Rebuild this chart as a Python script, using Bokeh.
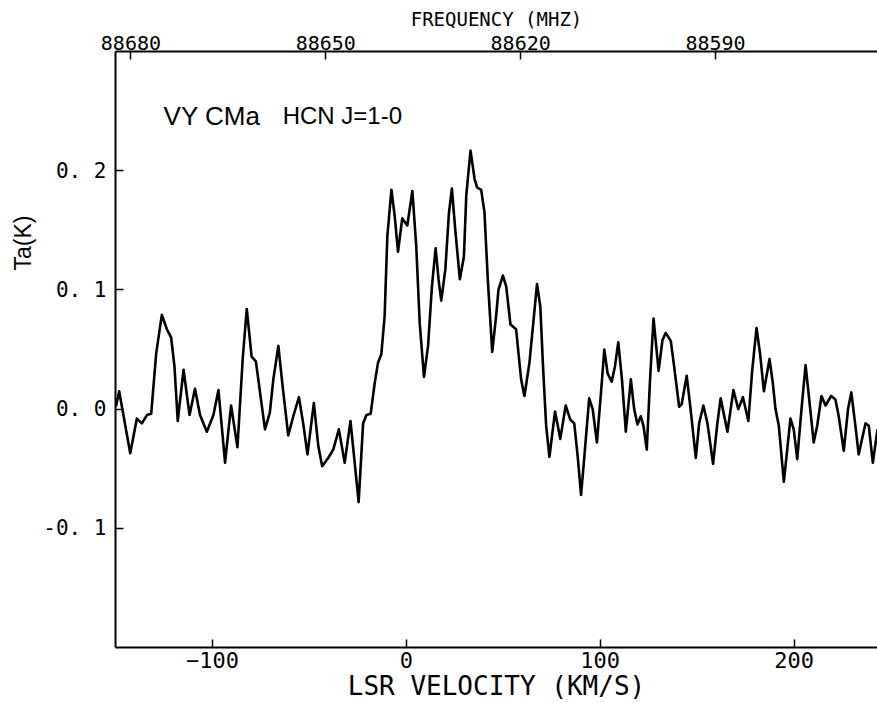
from bokeh.plotting import figure
from bokeh.models import Range1d, LinearAxis, FixedTicker, Label, Title
from bokeh.embed import file_html
from bokeh.resources import INLINE

# ---- data ----
velocity = [
    -149.8, -148.1, -142.4, -139.0, -136.4, -133.8, -131.6, -129.0, -126.1, -123.5,
    -121.3, -119.6, -117.9, -114.9, -111.8, -109.0, -106.4, -102.9, -99.5, -96.9,
    -93.5, -90.4, -87.1, -84.4, -82.3, -79.8, -77.6, -72.9, -70.4, -68.6,
    -66.0, -64.0, -60.9, -58.3, -55.4, -53.2, -51.0, -47.7, -45.4, -43.4,
    -40.3, -37.7, -34.8, -31.8, -28.8, -24.6, -22.3, -20.6, -18.4, -16.3,
    -14.6, -12.9, -11.2, -9.8, -7.7, -6.0, -4.3, -2.1, 0.5, 3.1,
    5.1, 6.9, 9.1, 11.2, 13.2, 15.1, 16.6, 18.0, 20.1, 22.0,
    23.5, 25.2, 27.6, 29.7, 30.9, 33.1, 35.2, 36.5, 38.6, 40.3,
    42.0, 44.3, 46.3, 47.5, 49.8, 51.5, 53.7, 56.6, 59.2, 60.9,
    63.5, 67.4, 69.1, 70.4, 72.1, 73.8, 76.7, 79.4, 82.2, 84.6,
    86.6, 88.4, 90.1, 91.8, 94.3, 96.1, 98.3, 100.4, 102.1, 103.8,
    105.9, 107.6, 109.3, 111.2, 113.2, 115.8, 117.5, 119.2, 120.9, 122.3,
    124.0, 125.7, 127.5, 130.1, 132.1, 133.8, 136.4, 138.1, 140.7, 142.0,
    144.6, 147.0, 149.3, 151.0, 153.2, 155.3, 158.2, 160.4, 162.1, 165.6,
    168.7, 171.2, 173.6, 176.4, 178.4, 180.6, 182.4, 184.4, 187.3, 189.0,
    190.4, 192.1, 194.7, 198.1, 199.8, 201.6, 203.8, 205.9, 207.6, 210.1,
    211.9, 214.1, 216.2, 219.1, 221.3, 223.0, 225.6, 227.8, 229.5, 231.6,
    233.3, 236.8, 238.5, 240.6, 243.0,
]
ta = [
    0.002, 0.015, -0.037, -0.008, -0.012, -0.005, -0.004, 0.047, 0.079, 0.067,
    0.060, 0.036, -0.010, 0.033, -0.005, 0.017, -0.005, -0.019, -0.005, 0.016,
    -0.045, 0.003, -0.032, 0.042, 0.084, 0.044, 0.040, -0.017, -0.003, 0.025,
    0.053, 0.022, -0.022, -0.006, 0.010, -0.012, -0.038, 0.005, -0.031, -0.048,
    -0.041, -0.034, -0.017, -0.045, -0.010, -0.078, -0.012, -0.005, -0.004, 0.022,
    0.039, 0.046, 0.078, 0.145, 0.184, 0.162, 0.132, 0.160, 0.154, 0.183,
    0.137, 0.072, 0.027, 0.053, 0.103, 0.135, 0.109, 0.091, 0.117, 0.165,
    0.185, 0.151, 0.109, 0.128, 0.179, 0.217, 0.193, 0.186, 0.184, 0.165,
    0.109, 0.048, 0.078, 0.100, 0.112, 0.103, 0.071, 0.067, 0.025, 0.011,
    0.039, 0.105, 0.086, 0.039, -0.014, -0.040, -0.002, -0.025, 0.003, -0.009,
    -0.012, -0.040, -0.072, -0.040, 0.009, 0.000, -0.028, 0.014, 0.050, 0.030,
    0.023, 0.036, 0.056, 0.025, -0.019, 0.025, 0.000, -0.013, -0.006, -0.014,
    -0.034, 0.025, 0.076, 0.032, 0.058, 0.064, 0.057, 0.036, 0.002, 0.004,
    0.028, -0.006, -0.041, -0.012, 0.003, -0.012, -0.046, -0.012, 0.009, -0.019,
    0.016, 0.000, 0.010, -0.010, 0.033, 0.068, 0.047, 0.015, 0.042, 0.022,
    0.000, -0.014, -0.061, -0.008, -0.017, -0.042, 0.000, 0.037, 0.011, -0.028,
    -0.014, 0.011, 0.003, 0.011, 0.008, -0.006, -0.035, 0.000, 0.014, -0.014,
    -0.038, -0.012, -0.014, -0.045, -0.017,
]

vel_ticks = [-100, 0, 100, 200]
ta_ticks = [-0.1, 0.0, 0.1, 0.2]
ta_tick_labels = ["-0. 1", "0. 0", "0. 1", "0. 2"]
freq_ticks = [88680, 88650, 88620, 88590]

source_name = "VY CMa"
line_name = "HCN J=1-0"
x_label = "LSR VELOCITY (KM/S)"
top_label = "FREQUENCY (MHZ)"
y_label = "Ta(K)"

# velocity <-> observed frequency
F0 = 88637.6        # MHz at v = 0
KMS_PER_MHZ = 3.35

v_min, v_max = -150.0, 243.0
t_min, t_max = -0.2, 0.3

MONO = "DejaVu Sans Mono"
SANS = "Liberation Sans"

p = figure(width=877, height=703, output_backend="svg", toolbar_location=None,
           x_range=Range1d(v_min, v_max), y_range=Range1d(t_min, t_max),
           x_axis_location=None, y_axis_location=None,
           min_border_left=115, min_border_right=0, min_border_top=51, min_border_bottom=56)
p.outline_line_color = None
p.grid.visible = False
p.background_fill_color = "white"
p.border_fill_color = "white"

p.extra_x_ranges = {"freq": Range1d(F0 - v_min / KMS_PER_MHZ, F0 - v_max / KMS_PER_MHZ)}


def style(ax, size, label_size):
    ax.axis_line_color = "black"
    ax.axis_line_width = 2
    ax.major_tick_line_color = "black"
    ax.major_tick_line_width = 1.5
    ax.major_tick_in = 8
    ax.major_tick_out = 0
    ax.minor_tick_line_color = None
    ax.major_label_text_font = MONO
    ax.major_label_text_font_size = size
    ax.major_label_text_color = "black"
    ax.axis_label_text_font = MONO
    ax.axis_label_text_font_size = label_size
    ax.axis_label_text_font_style = "normal"
    ax.axis_label_text_color = "black"


xb = LinearAxis(ticker=FixedTicker(ticks=vel_ticks), axis_label=x_label)
style(xb, "22px", "26px")
xb.major_label_standoff = 4
xb.axis_label_standoff = 0
p.add_layout(xb, "below")

xt = LinearAxis(x_range_name="freq", ticker=FixedTicker(ticks=freq_ticks), axis_label=top_label)
style(xt, "20px", "19px")
xt.major_label_standoff = 2
xt.axis_label_standoff = 3
p.add_layout(xt, "above")

yl = LinearAxis(ticker=FixedTicker(ticks=ta_ticks))
style(yl, "21px", "21px")
yl.major_label_standoff = 9
yl.major_label_overrides = {k: s for k, s in zip(ta_ticks, ta_tick_labels)}
p.add_layout(yl, "left")

# y-axis title, placed near the top of the left side
ytitle = Title(text=y_label, align="right", offset=164, standoff=9,
               text_font=SANS, text_font_size="23px", text_font_style="normal",
               text_color="black")
p.add_layout(ytitle, "left")

p.line(velocity, ta, line_color="black", line_width=2.6, line_join="round")

p.add_layout(Label(x=-125.2, y=0.246, text=source_name, text_font=SANS,
                   text_baseline="alphabetic",
                   text_font_size="26px", text_color="black"))
p.add_layout(Label(x=-63.8, y=0.246, text=line_name, text_font=SANS,
                   text_baseline="alphabetic",
                   text_font_size="24px", text_color="black"))

open("out.html", "w").write(file_html(p, INLINE))
